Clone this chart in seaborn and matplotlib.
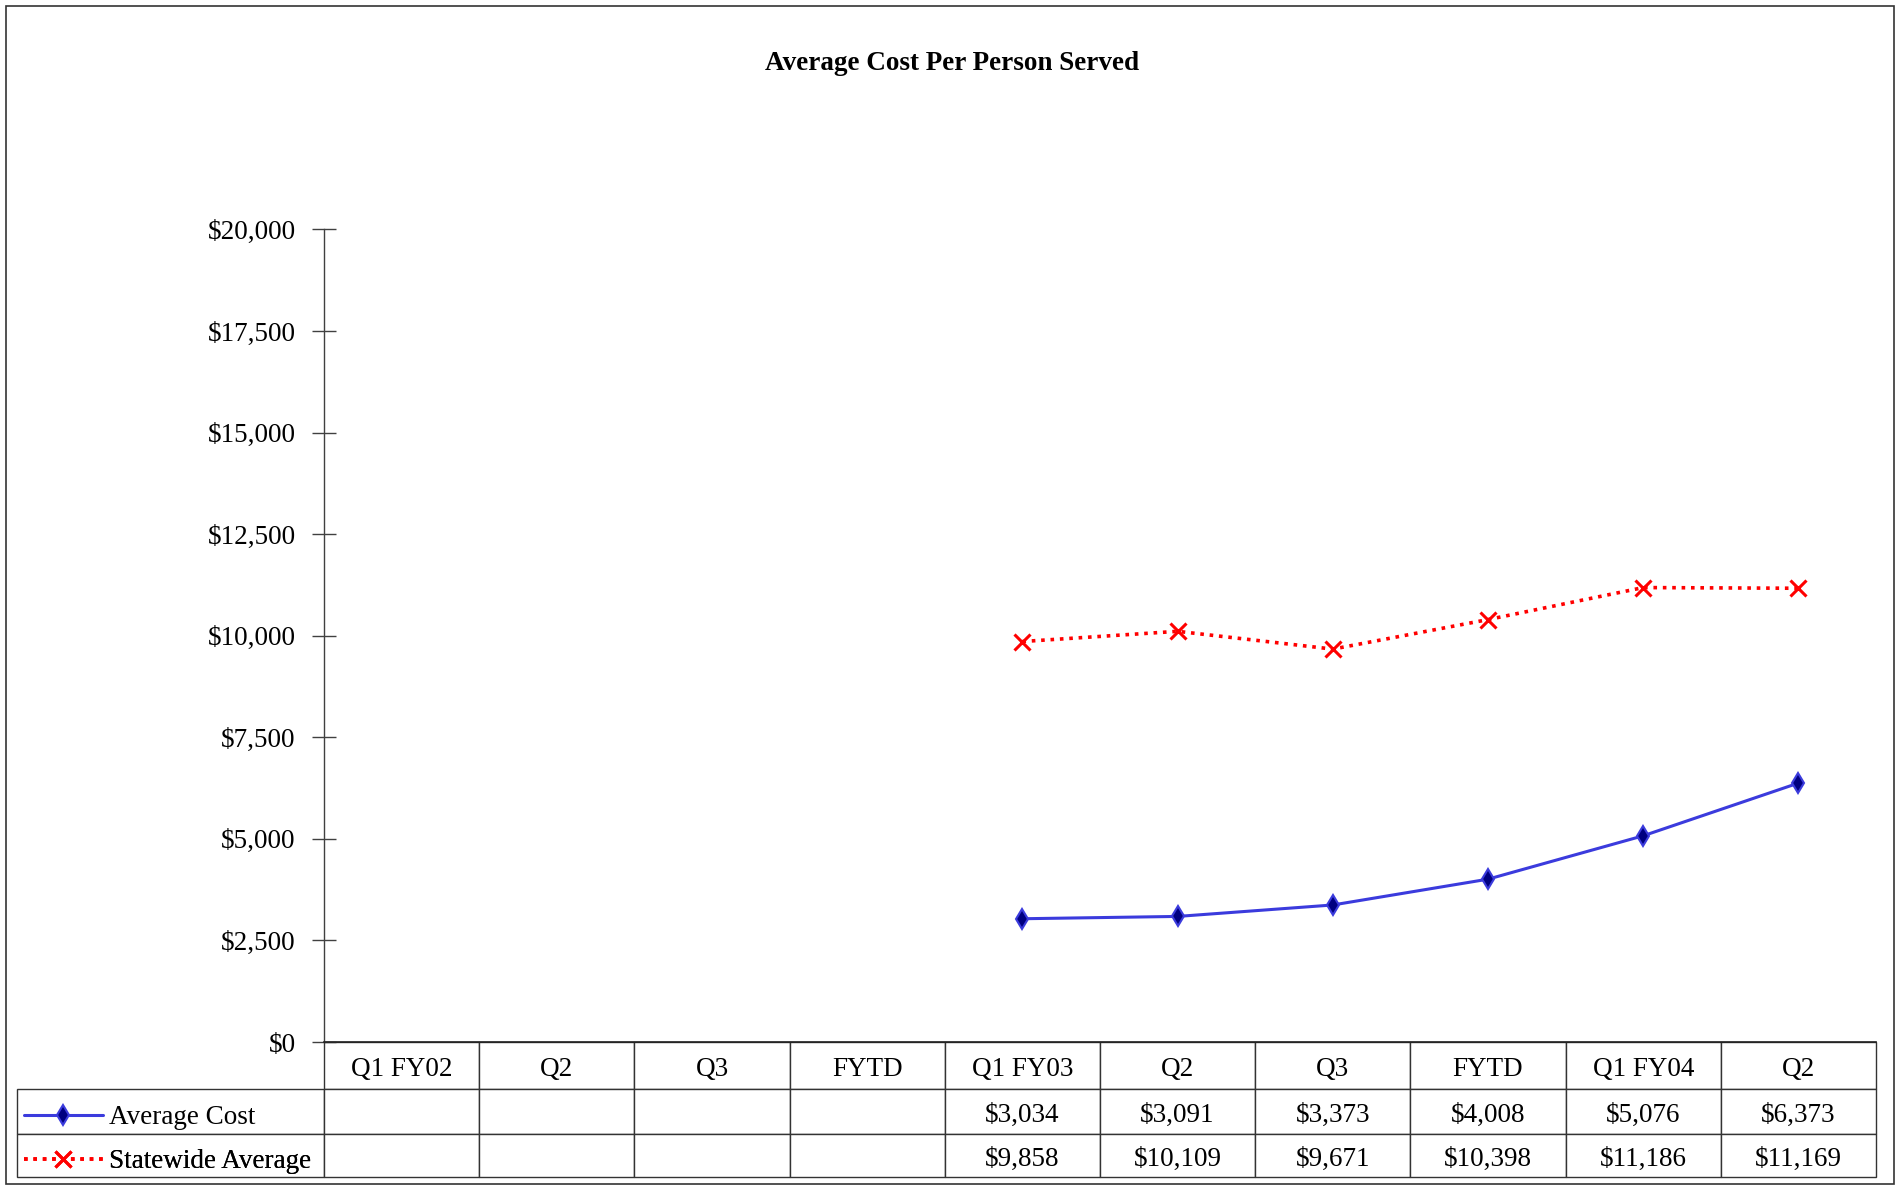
import numpy as np
import pandas as pd
import matplotlib
matplotlib.use("Agg")
import matplotlib.pyplot as plt
import matplotlib.transforms as mtransforms
import seaborn as sns
from matplotlib.patches import Rectangle
from matplotlib.ticker import FuncFormatter

# ---- data ----
categories = ["Q1 FY02", "Q2", "Q3", "FYTD", "Q1 FY03", "Q2", "Q3", "FYTD", "Q1 FY04", "Q2"]
avg_cost = [np.nan, np.nan, np.nan, np.nan, 3034, 3091, 3373, 4008, 5076, 6373]
statewide = [np.nan, np.nan, np.nan, np.nan, 9858, 10109, 9671, 10398, 11186, 11169]
series_names = ["Average Cost", "Statewide Average"]
y_ticks = [0, 2500, 5000, 7500, 10000, 12500, 15000, 17500, 20000]
title = "Average Cost Per Person Served"

sns.set_theme(style="white")
plt.rcParams["font.family"] = ["Liberation Serif", "DejaVu Serif"]
plt.rcParams["text.color"] = "black"
plt.rcParams["ytick.color"] = "black"
FS = 19.5

W, H = 1904, 1188
fig = plt.figure(figsize=(W / 100, H / 100), dpi=100)
ax_l, ax_r, ax_b, ax_t = 324, 1876, 1042, 229.5
ax = fig.add_axes([ax_l / W, (H - ax_b) / H, (ax_r - ax_l) / W, (ax_b - ax_t) / H])

pos = np.arange(len(categories))
df = pd.DataFrame({"pos": pos, series_names[0]: avg_cost, series_names[1]: statewide})

sns.lineplot(data=df, x="pos", y=series_names[0], ax=ax, color="#3b3bdd", linewidth=2.2,
             marker="d", markersize=10.5, markerfacecolor="#000080",
             markeredgecolor="#3b3bdd", markeredgewidth=1.5, label=series_names[0])
sns.lineplot(data=df, x="pos", y=series_names[1], ax=ax, color="#ff0000", linewidth=2.6,
             linestyle=(0, (1, 1.6)), marker="x", markersize=11,
             markeredgecolor="#ff0000", markeredgewidth=2.2, label=series_names[1])

handles, labels = ax.get_legend_handles_labels()
if ax.get_legend() is not None:
    ax.get_legend().remove()

ax.set_xlim(-0.5, len(categories) - 0.5)
ax.set_ylim(0, 20000)
ax.set_yticks(y_ticks)
ax.yaxis.set_major_formatter(FuncFormatter(lambda v, p: f"${v:,.0f}"))
ax.set_xticks([])
ax.set_xlabel("")
ax.set_ylabel("")
ax.tick_params(axis="y", direction="inout", length=17, width=1, color="#404040",
               pad=12, labelsize=FS, left=True, labelcolor="black")
for s in ["top", "right"]:
    ax.spines[s].set_visible(False)
ax.spines["left"].set_color("#404040")
ax.spines["left"].set_linewidth(1)
ax.spines["bottom"].set_color("#222222")
ax.spines["bottom"].set_linewidth(1.2)

# ---- data table ----
tbl_left, tbl_bottom = 17, 1177
axw, axh = ax_r - ax_l, ax_b - ax_t
cell_text = []
for vals in [avg_cost, statewide]:
    cell_text.append(["" if np.isnan(v) else f"${v:,.0f}" for v in vals])
table = ax.table(cellText=cell_text, rowLabels=["", ""], colLabels=categories,
                 cellLoc="center", rowLoc="left",
                 bbox=[0, -(tbl_bottom - ax_b) / axh, 1, (tbl_bottom - ax_b) / axh])
table.auto_set_font_size(False)
table.set_fontsize(FS)
lab_w = (ax_l - tbl_left) / axw
row_h = {0: 47, 1: 45, 2: 43}
text_shift = mtransforms.Affine2D().translate(0, -4)
for (r, c), cell in table.get_celld().items():
    cell.set_edgecolor("#333333")
    cell.set_linewidth(1)
    cell.set_height(row_h[r] / 1000)
    t = cell.get_text()
    t.set_fontfamily(["Liberation Serif", "DejaVu Serif"])
    t.set_color("black")
    t.set_transform(text_shift)
    if c == -1:
        cell.set_width(lab_w)
table._autoColumns = []

# ---- legend keys in the row-label cells ----
row_centers = [1118, 1162]
for h, l, yc in zip(handles, labels, row_centers):
    leg = ax.legend([h], [l], loc="center left",
                    bbox_to_anchor=((24 - ax_l) / axw, -(yc - ax_b) / axh),
                    frameon=False, borderpad=0, borderaxespad=0, handletextpad=0.25,
                    handlelength=2.9, fontsize=FS, numpoints=1, labelcolor="black")
    ax.add_artist(leg)

fig.text(0.5, 1 - 64 / H, title, ha="center", va="center", fontsize=FS,
         fontweight="bold", color="black")
fig.add_artist(Rectangle((6 / W, 4 / H), (1894 - 6) / W, (1184 - 6) / H,
                         transform=fig.transFigure, fill=False, edgecolor="#333333",
                         linewidth=1.2))

fig.savefig("out.png", dpi=100)
